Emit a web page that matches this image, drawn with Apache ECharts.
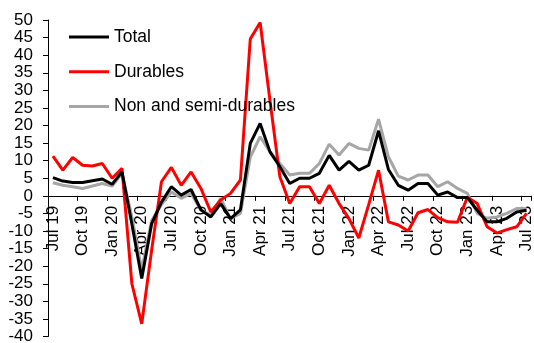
<!DOCTYPE html>
<html>
<head>
<meta charset="utf-8">
<script src="https://cdn.jsdelivr.net/npm/echarts@6/dist/echarts.min.js"></script>
<style>
  html, body { margin: 0; padding: 0; background: #fff; }
  #chart { width: 534px; height: 343px; }
</style>
</head>
<body>
<div id="chart"></div>
<script>
// Monthly categories, Jul 19 to Jul 23
const months = [
  'Jul 19','Aug 19','Sep 19','Oct 19','Nov 19','Dec 19',
  'Jan 20','Feb 20','Mar 20','Apr 20','May 20','Jun 20',
  'Jul 20','Aug 20','Sep 20','Oct 20','Nov 20','Dec 20',
  'Jan 21','Feb 21','Mar 21','Apr 21','May 21','Jun 21',
  'Jul 21','Aug 21','Sep 21','Oct 21','Nov 21','Dec 21',
  'Jan 22','Feb 22','Mar 22','Apr 22','May 22','Jun 22',
  'Jul 22','Aug 22','Sep 22','Oct 22','Nov 22','Dec 22',
  'Jan 23','Feb 23','Mar 23','Apr 23','May 23','Jun 23',
  'Jul 23'
];

const total = [
  5.2, 4.2, 3.8, 3.8, 4.3, 4.8,
  3.3, 6.8, -8.0, -23.5, -8.0, -1.8,
  2.6, 0.2, 1.8, -4.0, -6.0, -2.2,
  -6.5, -4.0, 14.9, 20.6, 12.5, 8.3,
  3.5, 5.0, 5.0, 6.4, 11.5, 7.3,
  9.8, 7.3, 8.7, 18.5, 7.5, 3.0,
  1.6, 3.5, 3.5, 0.2, 1.1, -0.5,
  -0.5, -4.1, -7.4, -7.4, -6.4, -4.6,
  -4.1
];

const durables = [
  11.3, 7.3, 10.9, 8.7, 8.5, 9.2,
  5.0, 7.8, -25.0, -36.4, -15.5, 4.0,
  8.1, 3.0, 6.8, 2.1, -4.6, -1.2,
  0.7, 4.5, 44.6, 49.3, 27.0, 5.4,
  -2.2, 2.6, 2.6, -2.2, 3.0, -2.2,
  -6.5, -12.0, -2.5, 7.3, -7.4, -8.3,
  -10.0, -4.8, -3.9, -6.2, -7.4, -7.5,
  -0.4, -2.2, -8.8, -10.6, -9.6, -8.8,
  -5.0
];

const nonSemiDurables = [
  3.7, 3.0, 2.6, 2.1, 2.8, 3.5,
  2.8, 6.4, -6.0, -21.0, -7.0, -2.5,
  1.1, -0.7, 0.7, -4.1, -5.5, -0.7,
  -6.5, -5.0, 11.0, 16.8, 12.5, 9.2,
  5.9, 6.4, 6.4, 9.2, 14.7, 11.6,
  14.9, 13.5, 13.0, 21.8, 11.1, 5.6,
  4.5, 5.9, 5.9, 2.6, 4.0, 2.1,
  0.7, -5.0, -6.4, -6.0, -5.0, -3.6,
  -3.6
];

const yTicks = { min: -40, max: 50, step: 5 };

const FONT = '"Liberation Sans", Arial, sans-serif';

// Plot box; the category axis is drawn along the zero line
const GRID = { left: 48, right: 2.5, top: 20, bottom: 6.5 };
const CHART_H = 343;
const plotH = CHART_H - GRID.top - GRID.bottom;
const zeroFromBottom = plotH * (0 - yTicks.min) / (yTicks.max - yTicks.min);

const chart = echarts.init(document.getElementById('chart'), null, { renderer: 'canvas' });

chart.setOption({
  animation: false,
  backgroundColor: '#ffffff',
  grid: Object.assign({ containLabel: false, outerBoundsMode: 'none' }, GRID),
  legend: {
    orient: 'vertical',
    left: 69,
    top: 27,
    padding: 0,
    icon: 'rect',
    itemWidth: 40,
    itemHeight: 3,
    itemGap: 14.7,
    textStyle: { fontFamily: FONT, fontSize: 17.5, color: '#000', lineHeight: 20 },
    data: ['Total', 'Durables', 'Non and semi-durables']
  },
  xAxis: {
    type: 'category',
    data: months,
    boundaryGap: true,
    position: 'bottom',
    offset: -zeroFromBottom,
    axisLine: { show: true, onZero: false, lineStyle: { color: '#000', width: 1 } },
    axisTick: { show: true, interval: 2, length: 5, inside: false, lineStyle: { color: '#000' } },
    axisLabel: {
      interval: 2,
      rotate: 90,
      margin: 10,
      fontFamily: FONT,
      fontSize: 17,
      color: '#000'
    },
    splitLine: { show: false }
  },
  yAxis: {
    type: 'value',
    min: yTicks.min,
    max: yTicks.max,
    interval: yTicks.step,
    axisLine: { show: true, lineStyle: { color: '#000', width: 1 } },
    axisTick: { show: true, length: 5, inside: false, lineStyle: { color: '#000' } },
    axisLabel: { margin: 15, fontFamily: FONT, fontSize: 17, color: '#000' },
    splitLine: { show: false }
  },
  series: [
    {
      name: 'Non and semi-durables',
      type: 'line',
      data: nonSemiDurables,
      symbol: 'none',
      lineStyle: { color: '#a6a6a6', width: 3 },
      itemStyle: { color: '#a6a6a6' },
      z: 2
    },
    {
      name: 'Durables',
      type: 'line',
      data: durables,
      symbol: 'none',
      lineStyle: { color: '#ff0000', width: 3 },
      itemStyle: { color: '#ff0000' },
      z: 3
    },
    {
      name: 'Total',
      type: 'line',
      data: total,
      symbol: 'none',
      lineStyle: { color: '#000000', width: 3 },
      itemStyle: { color: '#000000' },
      z: 4
    }
  ]
});
</script>
</body>
</html>
